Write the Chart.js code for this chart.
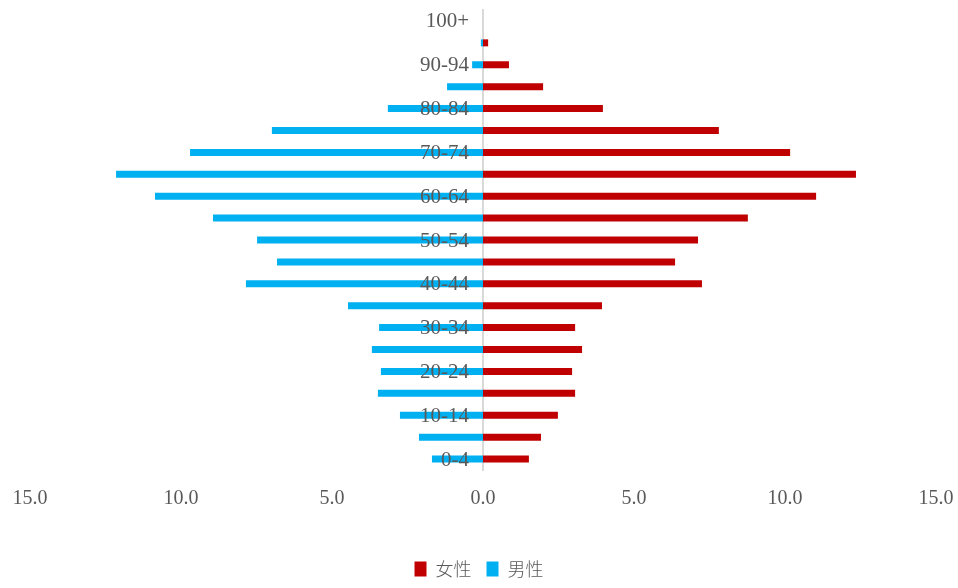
<!DOCTYPE html>
<html lang="zh">
<head>
    <meta charset="UTF-8">
    <title>人口金字塔</title>
    <script src="https://cdn.jsdelivr.net/npm/chart.js"></script>
    <style>
        body {
            margin: 0;
            background: #ffffff;
        }
        #wrap {
            width: 958px;
            height: 588px;
        }
    </style>
</head>
<body>
    <div id="wrap">
        <canvas id="myChart" width="958" height="588"></canvas>
    </div>

    <script>
        // 年龄组 (从下到上)
        const ageGroups = ['0-4', '5-9', '10-14', '15-19', '20-24', '25-29', '30-34', '35-39', '40-44', '45-49',
            '50-54', '55-59', '60-64', '65-69', '70-74', '75-79', '80-84', '85-89', '90-94', '95-99', '100+'];
        // 女性 占比 (%)
        const femaleValues = [1.52, 1.92, 2.48, 3.05, 2.95, 3.28, 3.05, 3.94, 7.25, 6.36,
            7.12, 8.77, 11.03, 12.35, 10.17, 7.81, 3.97, 1.99, 0.86, 0.17, 0];
        // 男性 占比 (%)
        const maleValues = [1.69, 2.12, 2.75, 3.48, 3.38, 3.68, 3.44, 4.47, 7.85, 6.82,
            7.48, 8.94, 10.86, 12.15, 9.70, 6.99, 3.15, 1.19, 0.36, 0.07, 0];
        const xTicks = [-15, -10, -5, 0, 5, 10, 15];

        const textColor = '#595959';
        const serif = '"Liberation Serif", "Times New Roman", serif';

        // 年龄标签画在中轴左侧, 压在条形上面
        const centerLabels = {
            id: 'centerLabels',
            afterDatasetsDraw(chart) {
                const { ctx, scales: { x, y } } = chart;
                const x0 = x.getPixelForValue(0) - 14;
                ctx.save();
                ctx.font = '21px ' + serif;
                ctx.fillStyle = textColor;
                ctx.textAlign = 'right';
                ctx.textBaseline = 'middle';
                ageGroups.forEach((label, i) => {
                    if (i % 2 === 0) {
                        ctx.fillText(label, x0, y.getPixelForValue(i) + 1);
                    }
                });
                ctx.restore();
            }
        };

        const ctx = document.getElementById('myChart').getContext('2d');
        new Chart(ctx, {
            type: 'bar',
            data: {
                labels: ageGroups,
                datasets: [{
                    label: '女性',
                    data: femaleValues,
                    backgroundColor: '#c00000',
                    barPercentage: 0.32,
                    categoryPercentage: 1
                }, {
                    label: '男性',
                    data: maleValues.map(v => -v),
                    backgroundColor: '#00b0f0',
                    barPercentage: 0.32,
                    categoryPercentage: 1
                }]
            },
            options: {
                indexAxis: 'y',
                responsive: false,
                animation: false,
                layout: {
                    padding: { left: 0, right: 0, top: 10, bottom: 0 }
                },
                scales: {
                    x: {
                        stacked: true,
                        min: xTicks[0],
                        max: xTicks[xTicks.length - 1],
                        grid: { display: false },
                        border: { display: false },
                        afterBuildTicks: (scale) => {
                            scale.ticks = xTicks.map(v => ({ value: v }));
                        },
                        afterFit: (scale) => {
                            scale.height = 75;
                            scale.paddingLeft = 30;
                            scale.paddingRight = 22;
                        },
                        ticks: {
                            padding: 9,
                            color: textColor,
                            font: { family: serif, size: 20 },
                            maxRotation: 0,
                            callback: (v) => Math.abs(v).toFixed(1)
                        }
                    },
                    y: {
                        stacked: true,
                        reverse: true,
                        position: { x: 0 },
                        z: 1,
                        grid: { display: false },
                        border: { display: true, color: '#d9d9d9', width: 2 },
                        ticks: { display: false }
                    }
                },
                plugins: {
                    tooltip: { enabled: false },
                    legend: {
                        position: 'bottom',
                        labels: {
                            boxWidth: 12,
                            boxHeight: 15,
                            padding: 15,
                            color: textColor,
                            font: { family: '"Noto Sans CJK SC", sans-serif', size: 18, weight: '300' }
                        }
                    }
                }
            },
            plugins: [centerLabels]
        });
    </script>
</body>
</html>
